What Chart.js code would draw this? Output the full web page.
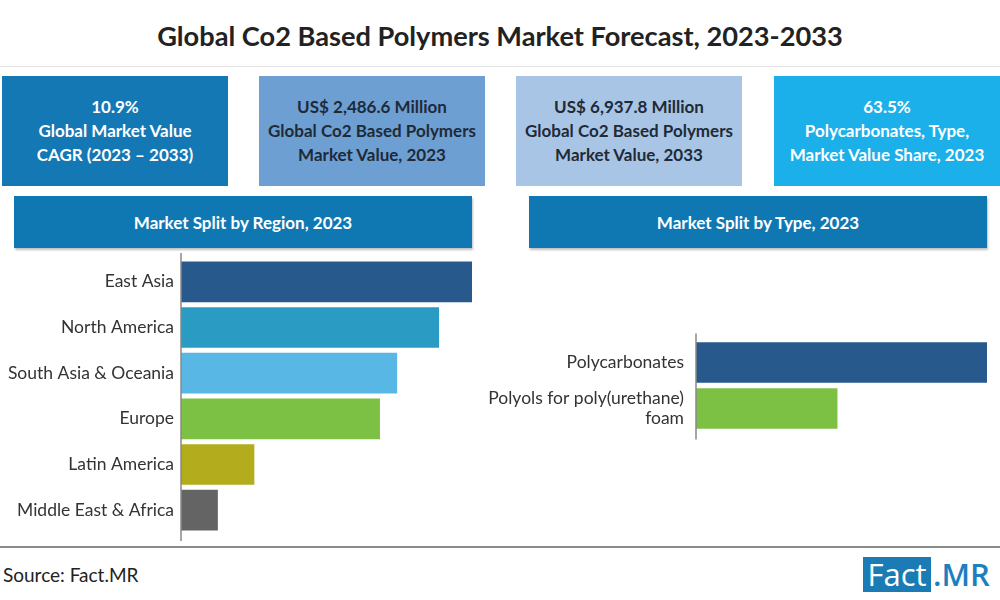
<!DOCTYPE html>
<html>
<head>
<meta charset="utf-8">
<script src="https://cdn.jsdelivr.net/npm/chart.js@4"></script>
<style>
  body { margin: 0; background: #fff; font-family: Lato, "Open Sans", sans-serif; }
  #page { position: relative; width: 1000px; height: 600px; overflow: hidden; }
  .title { position: absolute; left: 0; top: 19px; width: 1000px; text-align: center;
           font-size: 27.2px; font-weight: bold; color: #222; }
  .tline { position: absolute; left: 0; top: 66px; width: 1000px; height: 1px; background: #e4e4e4; }
  .box { position: absolute; top: 76px; width: 226px; height: 110px; display: flex;
         align-items: center; justify-content: center; text-align: center;
         font-size: 17px; font-weight: bold; line-height: 24px; }
  .head { position: absolute; top: 196px; height: 52px; width: 458px; background: #0f78b3;
          color: #fff; font-weight: bold; font-size: 17px; display: flex; align-items: center;
          justify-content: center; box-shadow: 1px 2px 2px rgba(0,0,0,0.25); }
  canvas { position: absolute; }
  .sep { position: absolute; left: 0; top: 546px; width: 1000px; height: 2px; background: #8a8a8a; }
  .src { position: absolute; left: 3px; top: 563px; font-size: 19px; color: #222; white-space: nowrap; }
  .logoF { position: absolute; left: 863px; top: 557px; width: 68px; height: 35px; background: #1a7bb5;
           color: #fff; font-family: "Open Sans", sans-serif; font-size: 31px; line-height: 35px;
           text-align: center; }
  .logoM { position: absolute; left: 933px; top: 557px; height: 35px; color: #1e7fc0;
           font-family: "Open Sans", sans-serif; font-weight: 600; font-size: 31px; line-height: 35px;
           white-space: nowrap; }
</style>
</head>
<body>
<div id="page">
  <div class="title">Global Co2 Based Polymers Market Forecast, 2023-2033</div>
  <div class="tline"></div>

  <div class="box" style="left:2px;background:#1478b4;color:#fff;">10.9%<br>Global Market Value<br>CAGR (2023 – 2033)</div>
  <div class="box" style="left:259px;background:#6d9fd3;color:#1f2a36;">US$ 2,486.6 Million<br>Global Co2 Based Polymers<br>Market Value, 2023</div>
  <div class="box" style="left:516px;background:#a8c5e5;color:#1f2a36;">US$ 6,937.8 Million<br>Global Co2 Based Polymers<br>Market Value, 2033</div>
  <div class="box" style="left:774px;background:#1cb0ea;color:#fff;">63.5%<br>Polycarbonates, Type,<br>Market Value Share, 2023</div>

  <div class="head" style="left:14px;">Market Split by Region, 2023</div>
  <div class="head" style="left:529px;">Market Split by Type, 2023</div>

  <canvas id="region" width="480" height="292" style="left:0;top:250px;"></canvas>
  <canvas id="type" width="530" height="125" style="left:470px;top:320px;"></canvas>

  <div class="sep"></div>
  <div class="src">Source: Fact.MR</div>
  <div class="logoF">Fact</div>
  <div class="logoM">.MR</div>
</div>

<script>
// region split, share of 2023 value (%)
var regions = ['East Asia', 'North America', 'South Asia & Oceania', 'Europe', 'Latin America', 'Middle East & Africa'];
var regionShare = [27.1, 24.0, 20.1, 18.5, 6.8, 3.4];
var regionColors = ['#27598d', '#2a9cc4', '#58b7e4', '#7cc143', '#b3ad1d', '#646464'];

// type split (%)
var types = ['Polycarbonates', ['Polyols for poly(urethane)', 'foam']];
var typeShare = [63.5, 30.8];
var typeColors = ['#27598d', '#7cc143'];

Chart.defaults.font.family = 'Lato, "Open Sans", sans-serif';
Chart.defaults.color = '#333';

// draws the vertical axis line a bit past the plot area, like the original
var axisLine = {
  id: 'axisLine',
  afterDraw: function(chart) {
    var a = chart.chartArea, ctx = chart.ctx;
    ctx.save();
    ctx.strokeStyle = '#888';
    ctx.lineWidth = 1.5;
    ctx.beginPath();
    ctx.moveTo(a.left, a.top - 6);
    ctx.lineTo(a.left, a.bottom + 8);
    ctx.stroke();
    ctx.restore();
  }
};

function barOptions(maxVal, axisWidth, pad, fontSize, tickPad) {
  return {
    indexAxis: 'y',
    responsive: false,
    animation: false,
    layout: { padding: pad },
    plugins: { legend: { display: false }, tooltip: { enabled: false } },
    scales: {
      x: { display: false, min: 0, max: maxVal },
      y: {
        grid: { display: false, drawTicks: false, tickLength: 0 },
        border: { display: false },
        ticks: { font: { size: fontSize, lineHeight: 1.15 }, color: '#333', padding: tickPad, autoSkip: false },
        afterFit: function(s) {
          s.width = axisWidth;
          s.paddingTop = 0;
          s.paddingBottom = 0;
        }
      }
    }
  };
}

new Chart(document.getElementById('region'), {
  type: 'bar',
  data: {
    labels: regions,
    datasets: [{ data: regionShare, backgroundColor: regionColors, barThickness: 40 }]
  },
  options: barOptions(27.1, 181, { top: 9, bottom: 9, right: 8, left: 0 }, 17.5, 7),
  plugins: [axisLine]
});

new Chart(document.getElementById('type'), {
  type: 'bar',
  data: {
    labels: types,
    datasets: [{ data: typeShare, backgroundColor: typeColors, barThickness: 40 }]
  },
  options: barOptions(63.5, 226, { top: 19.5, bottom: 13.5, right: 13, left: 0 }, 17.5, 12),
  plugins: [axisLine]
});
</script>
</body>
</html>
